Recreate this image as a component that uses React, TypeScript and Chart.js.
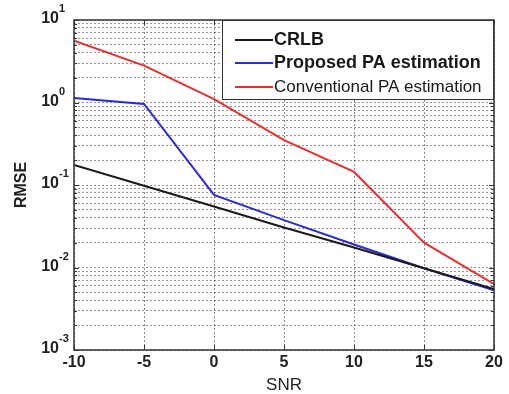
import { useEffect, useRef } from "react";
import { Chart, registerables } from "chart.js";

Chart.register(...registerables);

const snr = [-10, -5, 0, 5, 10, 15, 20];
const crlb = [0.175, 0.098, 0.055, 0.0305, 0.0175, 0.0098, 0.0055];
const proposed = [1.13, 0.96, 0.076, 0.0375, 0.019, 0.0098, 0.0053];
const conventional = [5.6, 2.8, 1.1, 0.35, 0.144, 0.02, 0.0063];
const xTicks = [-10, -5, 0, 5, 10, 15, 20];
const yExponents = [-3, -2, -1, 0, 1];
const seriesLabels = ["CRLB", "Proposed PA estimation", "Conventional PA estimation"];
const seriesColors = ["#1a1a1a", "#2b2bd6", "#e8302f"];
const xTitle = "SNR";
const yTitle = "RMSE";

const FONT = "'Liberation Sans', Arial, sans-serif";

const yGridValues: number[] = [];
for (let e = yExponents[0]; e < yExponents[yExponents.length - 1]; e++) {
  for (let m = 1; m <= 9; m++) yGridValues.push(m * Math.pow(10, e));
}
yGridValues.push(Math.pow(10, yExponents[yExponents.length - 1]));

const decorPlugin = {
  id: "decor",
  afterDatasetsDraw(chart: any) {
    const { ctx, chartArea: a, scales } = chart;
    const xs = scales.x;
    const ys = scales.y;
    ctx.save();
    // axes box
    ctx.strokeStyle = "#333";
    ctx.lineWidth = 1.5;
    ctx.strokeRect(a.left, a.top, a.right - a.left, a.bottom - a.top);
    // inner tick marks
    ctx.lineWidth = 1;
    ctx.strokeStyle = "#333";
    ctx.beginPath();
    for (const t of xTicks) {
      const px = Math.round(xs.getPixelForValue(t)) + 0.5;
      ctx.moveTo(px, a.bottom); ctx.lineTo(px, a.bottom - 5);
      ctx.moveTo(px, a.top); ctx.lineTo(px, a.top + 5);
    }
    for (const v of yGridValues) {
      const py = Math.round(ys.getPixelForValue(v)) + 0.5;
      const isMajor = Math.abs(Math.log10(v) - Math.round(Math.log10(v))) < 1e-9;
      const len = isMajor ? 5 : 3;
      ctx.moveTo(a.left, py); ctx.lineTo(a.left + len, py);
      ctx.moveTo(a.right, py); ctx.lineTo(a.right - len, py);
    }
    ctx.stroke();

    ctx.fillStyle = "#222";
    // x tick labels
    ctx.font = `bold 16px ${FONT}`;
    ctx.textAlign = "center";
    ctx.textBaseline = "middle";
    for (const t of xTicks) {
      ctx.fillText(String(t), xs.getPixelForValue(t), a.bottom + 13);
    }
    // y tick labels 10^k
    for (const e of yExponents) {
      const py = ys.getPixelForValue(Math.pow(10, e));
      ctx.font = `bold 16px ${FONT}`;
      ctx.textAlign = "right";
      ctx.textBaseline = "middle";
      ctx.fillText("10", a.left - 15, py - 1);
      ctx.font = `bold 11px ${FONT}`;
      ctx.textAlign = "left";
      ctx.fillText(String(e), a.left - 15, py - 11);
    }
    // axis titles
    ctx.font = `17px ${FONT}`;
    ctx.textAlign = "center";
    ctx.textBaseline = "middle";
    ctx.fillText(xTitle, (a.left + a.right) / 2, a.bottom + 35);
    ctx.save();
    ctx.translate(22, 185);
    ctx.rotate(-Math.PI / 2);
    ctx.font = `bold 16px ${FONT}`;
    ctx.fillText(yTitle, 0, 0);
    ctx.restore();

    // legend box
    const lx = 222, ly = a.top, lw = a.right - 222, lh = 80;
    ctx.fillStyle = "#fff";
    ctx.fillRect(lx, ly, lw, lh);
    ctx.strokeStyle = "#333";
    ctx.lineWidth = 1;
    ctx.strokeRect(lx + 0.5, ly + 0.5, lw - 1, lh - 1);
    const rows = [40, 63, 87];
    seriesLabels.forEach((lab, i) => {
      const yy = rows[i];
      ctx.strokeStyle = seriesColors[i];
      ctx.lineWidth = 2;
      ctx.beginPath();
      ctx.moveTo(235, yy); ctx.lineTo(273, yy);
      ctx.stroke();
      ctx.fillStyle = "#1a1a1a";
      ctx.font = i === 2 ? `17px ${FONT}` : `bold 18px ${FONT}`;
      ctx.textAlign = "left";
      ctx.textBaseline = "middle";
      ctx.fillText(lab, 274, yy);
    });
    ctx.restore();
  },
};

export default function App() {
  const ref = useRef<HTMLCanvasElement | null>(null);
  useEffect(() => {
    if (!ref.current) return;
    const mk = (vals: number[]) => snr.map((x, i) => ({ x, y: vals[i] }));
    const chart = new Chart(ref.current, {
      type: "line",
      data: {
        datasets: [
          { label: seriesLabels[0], data: mk(crlb), borderColor: seriesColors[0], borderWidth: 2, pointRadius: 0, tension: 0 },
          { label: seriesLabels[1], data: mk(proposed), borderColor: seriesColors[1], borderWidth: 2, pointRadius: 0, tension: 0 },
          { label: seriesLabels[2], data: mk(conventional), borderColor: seriesColors[2], borderWidth: 2, pointRadius: 0, tension: 0 },
        ],
      },
      options: {
        animation: false,
        responsive: false,
        maintainAspectRatio: false,
        layout: { padding: { left: 74, right: 15, top: 20, bottom: 44 } },
        plugins: { legend: { display: false }, tooltip: { enabled: false } },
        scales: {
          x: {
            type: "linear",
            min: -10,
            max: 20,
            afterBuildTicks: (s: any) => { s.ticks = xTicks.map((v) => ({ value: v })); },
            ticks: { display: false },
            grid: { color: "rgba(0,0,0,0.45)", lineWidth: 1, drawTicks: false },
            border: { display: false, dash: [2, 2] },
          },
          y: {
            type: "logarithmic",
            min: 1e-3,
            max: 1e1,
            afterBuildTicks: (s: any) => { s.ticks = yGridValues.map((v) => ({ value: v })); },
            ticks: { display: false },
            grid: { color: "rgba(0,0,0,0.42)", lineWidth: 1, drawTicks: false },
            border: { display: false, dash: [2, 2] },
          },
        },
      },
      plugins: [decorPlugin],
    } as any);
    return () => chart.destroy();
  }, []);
  return (
    <div style={{ position: "fixed", left: 0, top: 0, width: 509, height: 394, background: "#fff" }}>
      <canvas ref={ref} width={509} height={394} style={{ display: "block" }} />
    </div>
  );
}
